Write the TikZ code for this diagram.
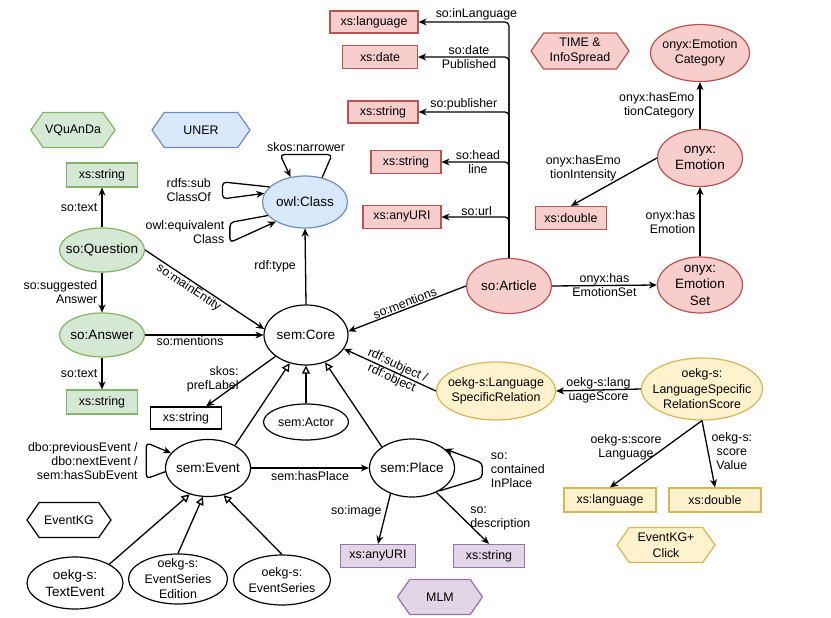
\documentclass[tikz,border=0pt]{standalone}
\usepackage{fontspec}
\setmainfont{Liberation Sans}
\usepackage{tikz}
\usetikzlibrary{shapes,arrows.meta,positioning}

\newcommand{\lblfont}{\fontsize{12.4}{14}\selectfont}
\newcommand{\smallfont}{\fontsize{12.4}{15.5}\selectfont}
\newcommand{\bigfont}{\fontsize{13.5}{16.5}\selectfont}

\begin{document}
\begin{tikzpicture}[x=1pt, y=-1pt,
    every node/.style={font=\smallfont, align=center},
    ent/.style={ellipse, draw, fill=white, line width=1.2pt, inner xsep=-8pt, inner ysep=-4pt},
    big/.style={font=\bigfont},
    lit/.style={rectangle, draw, fill=white, line width=1.2pt, minimum height=23pt, inner sep=2pt},
    hexa/.style={signal, signal to=west and east, signal pointer angle=110, draw, fill=white, line width=1.2pt, minimum height=35pt, inner sep=2pt},
    vqa/.style={fill=vqafill, draw=vqaline},
    uner/.style={fill=unerfill, draw=unerline},
    tis/.style={fill=tisfill, draw=tisline},
    ekgc/.style={fill=ekgcfill, draw=ekgcline},
    mlm/.style={fill=mlmfill, draw=mlmline},
    rel/.style={line width=1.3pt, -{Stealth[length=8pt,width=7pt,inset=2.5pt]}},
    isa/.style={line width=1.3pt, -{Triangle[open,length=8pt,width=8pt]}},
    lbl/.style={font=\lblfont, inner sep=1pt}]

% Define colors
\definecolor{vqafill}{RGB}{213,232,212}
\definecolor{vqaline}{RGB}{130,179,102}
\definecolor{unerfill}{RGB}{218,232,252}
\definecolor{unerline}{RGB}{108,142,191}
\definecolor{tisfill}{RGB}{248,206,204}
\definecolor{tisline}{RGB}{184,84,80}
\definecolor{ekgcfill}{RGB}{255,242,204}
\definecolor{ekgcline}{RGB}{214,182,86}
\definecolor{mlmfill}{RGB}{225,213,231}
\definecolor{mlmline}{RGB}{150,115,166}

\useasboundingbox (0,0) rectangle (831,618);

% Dataset tags
\node[hexa, vqa, minimum width=84pt] (tagvqa) at (73,130) {VQuAnDa};
\node[hexa, uner, minimum width=98pt] (taguner) at (201,130) {UNER};
\node[hexa, tis, minimum width=98pt, minimum height=36pt] (tagtis) at (580,51) {TIME \&\\InfoSpread};
\node[hexa, minimum width=84pt] (tagekg) at (69,520) {EventKG};
\node[hexa, mlm, minimum width=85pt] (tagmlm) at (440,597) {MLM};
\node[hexa, ekgc, minimum width=98pt] (tagekgc) at (666,545) {EventKG+\\Click};

% VQuAnDa
\node[lit, vqa, minimum width=71pt, minimum height=24pt] (qstr) at (102,175) {xs:string};
\node[ent, vqa, big, minimum width=85pt, minimum height=44pt] (quest) at (102,250) {so:Question};
\node[ent, vqa, big, minimum width=85pt, minimum height=44pt] (ans) at (102,335) {so:Answer};
\node[lit, vqa, minimum width=71pt, minimum height=24pt] (astr) at (102,402) {xs:string};

% UNER
\node[ent, uner, big, minimum width=85pt, minimum height=52pt] (cls) at (305,202) {owl:Class};
\node[ent, big, minimum width=84pt, minimum height=60pt] (core) at (306,335) {sem:Core};
\node[lit, minimum width=71pt, minimum height=22pt] (plbl) at (186,418) {xs:string};
\node[ent, minimum width=85pt, minimum height=36pt] (actor) at (306,422) {sem:Actor};

% EventKG
\node[ent, big, minimum width=85pt, minimum height=57pt] (event) at (208,468) {sem:Event};
\node[ent, big, minimum width=85pt, minimum height=58pt] (place) at (412,468) {sem:Place};
\node[ent, big, minimum width=96pt, minimum height=52pt] (txtev) at (75,583) {oekg-s:\\TextEvent};
\node[ent, minimum width=99pt, minimum height=50pt] (seredition) at (178,579) {oekg-s:\\EventSeries\\Edition};
\node[ent, minimum width=97pt, minimum height=50pt] (series) at (282,580) {oekg-s:\\EventSeries};

% MLM
\node[lit, mlm, minimum width=75pt] (imguri) at (378,556) {xs:anyURI};
\node[lit, mlm, minimum width=71pt] (descstr) at (489,556) {xs:string};

% EventKG+Click
\node[ent, ekgc, minimum width=119pt, minimum height=58pt] (lsr) at (496,391) {oekg-s:Language\\SpecificRelation};
\node[ent, ekgc, minimum width=121pt, minimum height=62pt] (lsrs) at (702,389) {oekg-s:\\LanguageSpecific\\RelationScore};
\node[lit, ekgc, minimum width=92pt, minimum height=24pt] (sclang) at (610,500) {xs:language};
\node[lit, ekgc, minimum width=92pt, minimum height=24pt] (scval) at (715,500) {xs:double};

% TIME & InfoSpread
\node[ent, tis, big, minimum width=85pt, minimum height=55pt] (art) at (509,286) {so:Article};
\node[ent, tis, big, minimum width=85pt, minimum height=56pt] (emoset) at (700,285) {onyx:\\Emotion\\Set};
\node[ent, tis, big, minimum width=85pt, minimum height=57pt] (emo) at (700,158) {onyx:\\Emotion};
\node[ent, tis, minimum width=99pt, minimum height=57pt] (emocat) at (700,53) {onyx:Emotion\\Category};
\node[lit, tis, minimum width=71pt] (intens) at (571,218) {xs:double};
\node[lit, tis, minimum width=88pt, minimum height=22pt] (lang) at (374,22) {xs:language};
\node[lit, tis, minimum width=75pt] (date) at (380,57) {xs:date};
\node[lit, tis, minimum width=70pt, minimum height=22pt] (pub) at (383,112) {xs:string};
\node[lit, tis, minimum width=70pt] (head) at (406,162) {xs:string};
\node[lit, tis, minimum width=78pt] (url) at (402,217) {xs:anyURI};

% Question and answer relations
\draw[rel] (quest.north) -- (qstr.south) node[lbl, midway, left=3pt] {so:text};
\draw[rel] (quest.south) -- (ans.north) node[lbl, midway, left=3pt, align=right] {so:suggested\\Answer};
\draw[rel] (ans.south) -- (astr.north) node[lbl, midway, left=3pt] {so:text};
\draw[rel] (quest.east) -- (core.172) node[lbl, pos=0.4, sloped, below] {so:mainEntity};
\draw[rel] (ans.east) -- (core.west) node[lbl, pos=0.38, below] {so:mentions};

% Core and class relations
\draw[rel] (core.north) -- (cls.south) node[lbl, midway, left=8pt] {rdf:type};
\draw[rel, rounded corners=4pt] (cls.55) -- ++(10,-23) -- ++(-52,0) node[lbl, midway, above=1pt] {skos:narrower} -- (cls.120);
\draw[rel, rounded corners=4pt] (cls.157) -- ++(-47,-5) -- ++(0,17) node[lbl, midway, left=10pt, align=right] {rdfs:sub\\ClassOf} -- (cls.168);
\draw[rel, rounded corners=4pt] (cls.200) -- ++(-38,7) -- ++(0,20) node[lbl, midway, left=4pt, align=right] {owl:equivalent\\Class} -- (cls.214);
\draw[rel] (core.215) -- (plbl.30) node[lbl, pos=0.45, left=4pt, align=right] {skos:\\prefLabel};
\draw[isa] (actor.north) -- (core.south);
\draw[isa] (event.40) -- (core.240);
\draw[isa] (place.145) -- (core.305);

% Event and place relations
\draw[rel] (event.east) -- (place.west) node[lbl, midway, below=2pt] {sem:hasPlace};
\draw[rel, rounded corners=4pt] (event.185) -- ++(-19,7) -- ++(0,-36) node[lbl, midway, left=7pt, align=right] {dbo:previousEvent /\\dbo:nextEvent /\\sem:hasSubEvent} -- (event.158);
\draw[isa] (txtev.north east) -- (event.235);
\draw[isa] (seredition.north) -- (event.260);
\draw[isa] (series.north) -- (event.300);
\draw[rel, rounded corners=4pt] (place.-40) -- ++(43,-13) -- ++(0,-15) node[lbl, midway, right=7pt, align=left] {so:\\contained\\InPlace} -- (place.30);
\draw[rel] (place.-130) -- (imguri.north) node[lbl, pos=0.35, left=3pt] {so:image};
\draw[rel] (place.-45) -- (descstr.north) node[lbl, midway, right=6pt, align=left] {so:\\description};

% Language specific relations
\draw[rel] (lsr.west) -- (core.340) node[lbl, pos=0.45, sloped] {rdf:subject /\\rdf:object};
\draw[rel] (lsrs.west) -- (lsr.east) node[lbl, midway] {oekg-s:lang\\uageScore};
\draw[rel] (lsrs.south) -- (sclang.north) node[lbl, pos=0.4, left=2pt] {oekg-s:score\\Language};
\draw[rel] (lsrs.south) -- (scval.north) node[lbl, pos=0.45, right=2pt] {oekg-s:\\score\\Value};

% Article relations
\draw[rel, rounded corners=4pt] (art.north) |- (lang.east) node[lbl, pos=0.68, above] {so:inLanguage};
\draw[rel, rounded corners=4pt] (art.north) |- (date.east) node[lbl, pos=0.72] {so:date\\Published};
\draw[rel, rounded corners=4pt] (art.north) |- (pub.east) node[lbl, pos=0.75, above] {so:publisher};
\draw[rel, rounded corners=4pt] (art.north) |- (head.east) node[lbl, pos=0.73] {so:head\\line};
\draw[rel, rounded corners=4pt] (art.north) |- (url.east) node[lbl, pos=0.74, above] {so:url};
\draw[rel] (art.west) -- (core.5) node[lbl, midway, sloped, above] {so:mentions};
\draw[rel] (art.east) -- (emoset.west) node[lbl, midway] {onyx:has\\EmotionSet};
\draw[rel] (emoset.north) -- (emo.south) node[lbl, midway, left=3pt, align=right] {onyx:has\\Emotion};
\draw[rel] (emo.north) -- (emocat.south) node[lbl, midway, left=4pt, align=right] {onyx:hasEmo\\tionCategory};
\draw[rel] (emo.west) -- (intens.north) node[lbl, pos=0.4, above left, yshift=-6pt] {onyx:hasEmo\\tionIntensity};

\end{tikzpicture}
\end{document}
